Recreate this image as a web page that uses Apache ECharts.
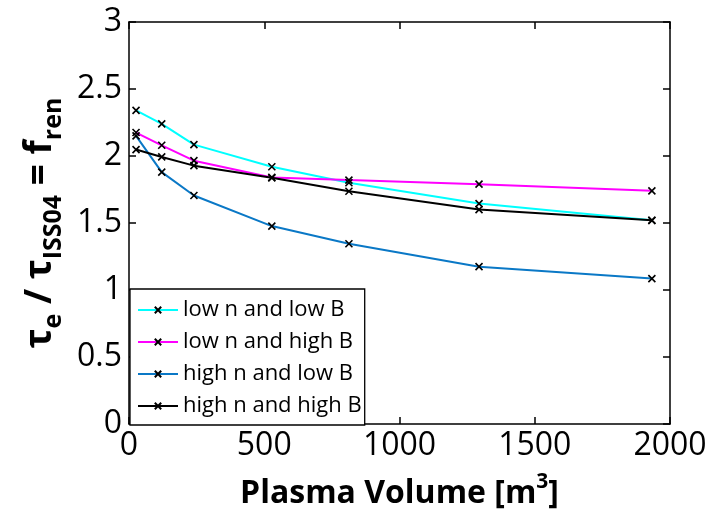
<!DOCTYPE html>
<html><head><meta charset="utf-8">
<script src="https://cdn.jsdelivr.net/npm/echarts@6/dist/echarts.min.js"></script>
<style>html,body{margin:0;padding:0;background:#fff}#c{width:715px;height:521px}</style>
</head><body><div id="c"></div>
<script>
const volumes = [26, 121, 240, 528, 813, 1294, 1933];
const lowNlowB   = [2.34, 2.24, 2.085, 1.92, 1.80, 1.645, 1.52];
const lowNhighB  = [2.175, 2.08, 1.965, 1.84, 1.82, 1.79, 1.74];
const highNlowB  = [2.15, 1.88, 1.705, 1.477, 1.345, 1.174, 1.085];
const highNhighB = [2.048, 1.993, 1.928, 1.837, 1.737, 1.60, 1.52];
const seriesNames = ['low n and low B','low n and high B','high n and low B','high n and high B'];
const seriesColors = ['#00FFFF','#FF00FF','#0a78c6','#000000'];
const xTicks = {min:0, max:2000, interval:500};
const yTicks = {min:0, max:3, interval:0.5};

const FONT = 'Open Sans';
const xSym = 'path://M0,0 L10,10 M10,0 L0,10';
const allData = [lowNlowB, lowNhighB, highNlowB, highNhighB];
const chart = echarts.init(document.getElementById('c'));
const series = allData.map((d,i)=>({
  name: seriesNames[i], type:'line', data: volumes.map((v,k)=>[v,d[k]]),
  symbol: xSym, symbolSize: 7, showAllSymbol:true,
  color: seriesColors[i],
  lineStyle:{color:seriesColors[i], width:2},
  itemStyle:{color:'#000', borderColor:'#000', borderWidth:1.6},
  emphasis:{disabled:true}, animation:false, z: 2
}));
const axisLine = {show:true, onZero:false, lineStyle:{color:'#000', width:1.5}};
const tick = {show:true, inside:true, length:7, lineStyle:{color:'#000', width:1.5}};
chart.setOption({
  animation:false,
  backgroundColor:'#fff',
  grid:{left:129, right:45, top:22, bottom:96, containLabel:false},
  legend:{
    orient:'vertical', left:130, top:289, padding:[10,3,8,7],
    itemWidth:40, itemHeight:8, itemGap:10,
    backgroundColor:'#fff', borderColor:'#000', borderWidth:1.3,
    textStyle:{fontFamily:FONT, fontSize:22, color:'#000'},
    data: seriesNames
  },
  xAxis:[{
    type:'value', min:xTicks.min, max:xTicks.max, interval:xTicks.interval,
    axisLine, axisTick:tick, splitLine:{show:false},
    axisLabel:{fontFamily:FONT, fontSize:32, color:'#000', margin:6, formatter:v=>String(v)},
    name:'Plasma Volume [m{sup|3}]', nameLocation:'middle', nameGap:48,
    nameTextStyle:{fontFamily:FONT, fontSize:32, fontWeight:'bold', color:'#000', lineHeight:44,
      rich:{sup:{fontFamily:FONT, fontSize:21, fontWeight:'bold', verticalAlign:'top', lineHeight:26, color:'#000'}}}
  },{
    type:'value', position:'top', min:xTicks.min, max:xTicks.max, interval:xTicks.interval,
    axisLine, axisTick:tick, axisLabel:{show:false}, splitLine:{show:false}
  }],
  yAxis:[{
    type:'value', min:yTicks.min, max:yTicks.max, interval:yTicks.interval,
    axisLine, axisTick:tick, splitLine:{show:false},
    axisLabel:{fontFamily:FONT, fontSize:32, color:'#000', margin:7, formatter:v=>String(v)},
    name:'τ{sub|e} / τ{sub|ISS04} = f{sub|ren}', nameLocation:'middle', nameGap:84, nameRotate:90,
    nameTextStyle:{fontFamily:FONT, fontSize:37, fontWeight:'bold', color:'#000', lineHeight:52, verticalAlign:'middle',
      rich:{sub:{fontFamily:FONT, fontSize:25, fontWeight:'bold', color:'#000', verticalAlign:'bottom', lineHeight:52}}}
  },{
    type:'value', position:'right', min:yTicks.min, max:yTicks.max, interval:yTicks.interval,
    axisLine, axisTick:tick, axisLabel:{show:false}, splitLine:{show:false}
  }],
  series
});
</script></body></html>
